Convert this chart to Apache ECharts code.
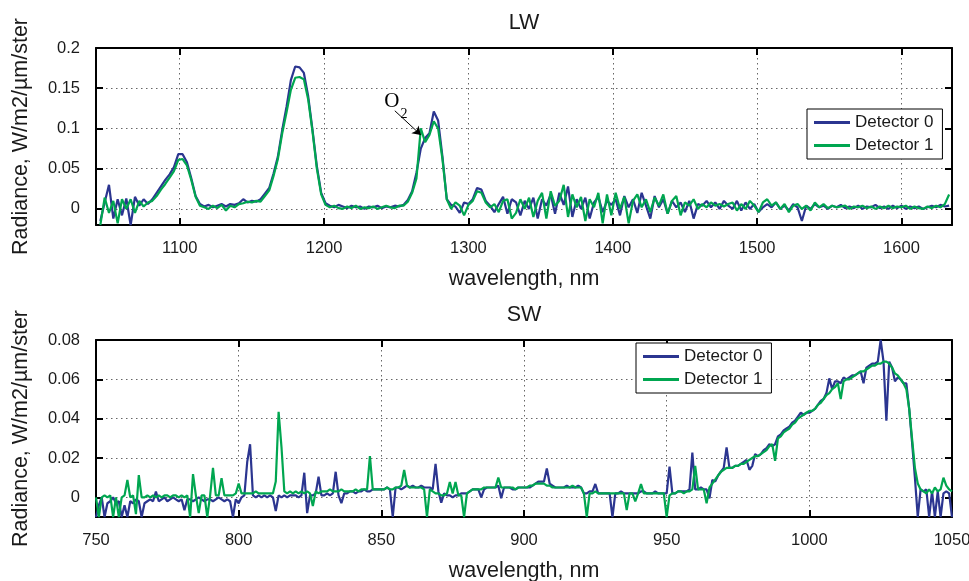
<!DOCTYPE html>
<html><head><meta charset="utf-8">
<script src="https://cdn.jsdelivr.net/npm/echarts@6/dist/echarts.min.js"></script>
<style>html,body{margin:0;padding:0;background:#fff}#c{width:969px;height:581px}</style>
</head><body><div id="c"></div>
<script>
// ---------------- DATA ----------------
const seriesNames = ['Detector 0', 'Detector 1'];
const panelTitles = ['LW', 'SW'];

// LW: sampled every 3 nm starting at 1045 nm
const lwStart = 1045, lwStep = 3;
const lwDet0 = [
-0.015,0.008,0.03,-0.012,0.012,-0.008,0.013,-0.02,0.015,0.004,0.012,0.006,
0.012,0.02,0.028,0.036,0.043,0.052,0.068,0.068,0.058,0.038,0.016,0.006,
0.003,0.005,0.002,0.004,0.006,0.003,0.006,0.005,0.007,0.012,0.008,0.01,
0.009,0.012,0.019,0.026,0.044,0.065,0.098,0.127,0.16,0.177,0.176,0.169,
0.14,0.098,0.053,0.02,0.007,
0.004,0.002,0.005,0.003,0.001,0.004,0.002,0.003,0.0,0.003,0.002,0.004,0.001,0.003,0.002,0.004,0.003,0.005,
0.011,0.022,0.045,0.075,0.088,0.094,0.121,0.11,0.065,0.012,
0.005,0.003,-0.005,0.008,0.006,0.012,0.026,0.024,0.01,0.004,
-0.004,0.006,0.015,-0.006,0.012,
0.008,-0.008,0.01,0.0,0.014,-0.012,0.012,0.004,0.018,-0.006,
0.02,0.005,0.028,-0.01,0.012,0.0,0.014,-0.012,0.008,0.015,
-0.004,0.01,0.005,0.012,-0.008,0.016,0.002,0.012,-0.005,0.02,
0.004,-0.012,0.016,0.002,0.012,-0.006,0.01,0.002,0.008,-0.004,
0.01,-0.012,0.006,0.004,0.01,0.002,0.008,0.0,0.01,0.004,
0.0,0.01,-0.002,0.008,0.0,0.006,-0.004,0.002,0.006,0.002,
0.008,0.0,0.004,-0.002,0.006,0.002,-0.015,0.004,0.0,0.006,
0.002,0.004,0.0,0.004,0.002,0.005,0.001,0.003,0.001,0.004,
0.0,0.003,0.002,0.005,0.001,0.003,0.0,0.004,0.001,0.004,
0.0,0.003,0.001,0.003,0.0,0.002,0.004,0.002,0.005,0.003,
0.004
];
const lwDet1 = [
-0.02,0.014,-0.005,0.01,-0.018,0.012,0.0,0.012,-0.005,0.01,0.003,0.008,
0.01,0.016,0.024,0.031,0.039,0.047,0.061,0.062,0.054,0.036,0.015,0.004,
0.002,0.0,0.004,0.001,0.005,-0.002,0.004,0.002,0.006,0.007,0.009,0.008,
0.01,0.009,0.016,0.023,0.041,0.062,0.094,0.12,0.148,0.163,0.164,0.161,
0.136,0.096,0.05,0.018,0.005,
0.002,0.004,0.001,0.0,0.003,0.001,0.004,0.0,0.002,0.001,0.003,0.0,0.002,0.004,0.002,0.001,0.004,0.004,
0.009,0.02,0.038,0.1,0.083,0.092,0.109,0.1,0.062,0.012,
0.0,0.008,0.004,-0.008,0.005,0.01,0.022,0.02,0.008,0.002,
0.006,-0.004,0.01,0.012,-0.012,
-0.005,0.012,0.0,0.014,-0.01,0.01,0.02,-0.012,0.022,0.004,
0.01,0.03,-0.01,0.018,0.002,0.015,-0.015,0.012,0.002,0.02,
-0.018,0.018,-0.008,0.02,0.0,0.015,-0.018,0.01,0.018,0.002,
0.012,-0.004,0.014,0.004,0.018,-0.006,0.01,0.016,-0.008,0.008,
0.004,0.012,0.0,0.006,0.002,0.008,0.004,0.006,0.003,0.006,
0.008,-0.002,0.006,0.0,0.01,0.004,-0.004,0.008,0.012,0.004,
0.008,0.0,0.006,-0.004,0.004,0.006,0.0,0.004,-0.002,0.008,
0.002,0.006,0.001,0.004,0.002,0.003,0.004,0.0,0.003,0.002,
0.004,0.001,0.003,0.0,0.003,0.001,0.004,0.001,0.003,0.002,
0.004,0.0,0.003,0.001,0.0,0.003,0.001,0.004,0.002,0.006,
0.018
];

// SW: sampled every 1 nm starting at 750 nm
const swStart = 750, swStep = 1;
const swDet0 = [
-0.01,-0.004,0.0,-0.01,-0.003,-0.002,0.0,-0.003,-0.002,-0.01,
-0.004,-0.01,-0.002,-0.003,-0.001,-0.002,-0.01,-0.003,-0.002,-0.001,
-0.002,0.003,-0.002,-0.001,0.0,-0.002,-0.001,0.0,-0.001,-0.002,
-0.001,-0.0065,-0.001,-0.001,-0.002,-0.001,0.0,-0.001,-0.002,-0.001,
-0.001,-0.002,-0.001,0.0,-0.001,-0.002,-0.001,-0.002,-0.01,-0.001,
-0.003,0.0,0.001,0.018,0.027,0.001,0.0,0.001,0.0,0.001,
0.0,0.001,0.0,-0.007,0.001,0.0,0.001,0.0,0.001,0.001,
0.001,0.0,0.001,0.0125,-0.008,0.001,0.001,0.002,0.0105,0.001,
0.001,0.002,0.001,0.002,0.013,0.001,-0.003,0.002,0.002,0.003,
0.003,0.002,0.003,0.003,0.004,0.003,0.003,0.004,0.004,0.004,
0.004,0.004,0.005,0.004,-0.01,0.005,0.005,0.004,0.005,0.006,
0.005,0.006,0.005,0.005,0.006,0.005,0.005,0.005,0.004,0.017,
0.003,-0.0027,0.002,0.001,0.001,0.0,0.001,0.001,0.002,0.002,
0.002,0.003,0.004,0.004,0.004,0.0,0.004,0.005,0.005,0.005,
0.005,0.006,-0.0005,0.005,0.005,0.005,0.004,0.004,0.005,0.005,
0.005,0.005,0.005,0.006,0.007,0.008,0.008,0.008,0.0147,0.007,
0.006,0.005,0.005,0.005,0.005,0.006,0.005,0.005,0.005,0.006,
0.005,0.002,0.002,0.003,0.003,0.0068,0.002,0.002,0.002,0.002,
0.002,-0.01,0.002,0.002,0.003,0.002,0.002,0.002,0.002,0.002,
0.002,0.003,0.003,0.002,0.002,0.002,0.003,0.002,0.002,0.002,
0.002,0.0156,0.002,0.002,0.003,0.003,0.003,0.003,0.004,0.0227,
0.004,0.004,0.005,0.004,0.004,-0.0005,0.0088,0.008,0.011,0.013,
0.015,0.0254,0.015,0.015,0.016,0.016,0.017,0.018,0.019,0.014,
0.016,0.022,0.021,0.022,0.024,0.025,0.027,0.026,0.027,0.031,
0.032,0.034,0.035,0.036,0.038,0.039,0.041,0.043,0.042,0.043,
0.043,0.044,0.045,0.047,0.049,0.05,0.053,0.0605,0.055,0.059,
0.059,0.058,0.061,0.06,0.061,0.062,0.062,0.063,0.064,0.058,
0.066,0.067,0.068,0.068,0.069,0.08,0.069,0.039,0.069,0.066,
0.059,0.061,0.06,0.058,0.058,0.045,0.028,0.01,-0.01,0.004,
0.003,0.004,-0.01,0.003,-0.01,0.003,-0.01,0.002,0.003,0.002,-0.01
];
const swDet1 = [
0.0,-0.01,0.0,0.001,0.0,0.001,-0.01,0.0,-0.01,0.0,
0.001,0.0088,0.0,0.001,-0.0085,0.0113,0.0,0.0,0.001,0.0,
0.001,0.0,0.001,0.0,0.001,0.001,0.0,0.001,0.001,0.0,
0.001,0.0,0.001,-0.01,0.0118,0.001,-0.008,0.001,0.001,-0.01,
0.001,0.015,0.001,0.001,0.0097,0.001,0.001,0.001,0.001,0.002,
0.007,0.002,0.002,0.002,0.002,0.002,0.003,0.002,0.002,0.002,
0.002,0.002,0.002,0.008,0.0435,0.0257,0.003,0.002,0.003,0.002,
0.003,0.002,0.003,0.002,0.003,0.002,-0.0044,0.003,0.002,0.003,
0.003,0.003,0.004,0.003,0.003,0.003,0.004,0.003,0.003,0.003,
0.003,0.004,0.003,0.004,0.004,0.004,0.021,0.004,0.004,0.004,
0.004,0.004,0.005,0.004,0.004,0.005,0.005,0.006,0.0139,0.006,
0.005,0.005,0.005,0.005,0.005,0.004,-0.01,0.004,0.003,0.002,
0.002,0.001,0.001,0.002,0.0078,0.002,0.0078,0.001,0.001,-0.01,
0.002,0.003,0.004,0.004,0.004,0.004,0.005,0.005,0.005,0.005,
0.005,0.01,0.005,0.005,0.005,0.005,0.005,0.004,0.005,0.005,
0.005,0.005,0.006,0.006,0.007,0.007,0.007,0.007,0.006,0.006,
0.005,0.005,0.005,0.005,0.005,0.005,0.005,0.006,0.005,0.005,
0.005,0.002,-0.01,0.002,0.002,0.003,0.002,0.002,0.002,0.002,
0.002,0.002,0.002,0.002,0.002,0.002,-0.0065,0.002,0.002,-0.002,
0.002,0.0068,0.002,0.002,0.002,0.002,0.002,0.002,0.002,0.002,
-0.01,0.001,0.002,0.002,0.003,0.003,0.002,0.003,0.003,0.004,
0.016,0.004,0.004,0.004,-0.003,0.005,0.007,0.009,0.011,0.013,
0.014,0.015,0.015,0.015,0.016,0.016,0.017,0.017,0.018,0.019,
0.02,0.021,0.021,0.022,0.023,0.024,0.026,0.027,0.0186,0.03,
0.031,0.033,0.034,0.035,0.037,0.038,0.04,0.041,0.042,0.043,
0.044,0.044,0.045,0.047,0.048,0.05,0.052,0.053,0.055,0.056,
0.058,0.05,0.059,0.06,0.06,0.061,0.062,0.063,0.064,0.064,
0.065,0.066,0.067,0.067,0.068,0.068,0.069,0.069,0.068,0.066,
0.063,0.062,0.06,0.058,0.055,0.045,0.03,0.015,0.007,0.004,
0.003,0.002,0.004,0.002,0.005,0.003,0.004,0.01,0.006,0.004,0.003
];

// axis ranges and tick labels
const lwXRange = [1042, 1635];
const lwYRange = [-0.02, 0.2];
const swXRange = [750, 1050];
const swYRange = [-0.01, 0.08];
const lwXTicks = [1100, 1200, 1300, 1400, 1500, 1600];
const lwYTicks = [0, 0.05, 0.1, 0.15, 0.2];
const swXTicks = [750, 800, 850, 900, 950, 1000, 1050];
const swYTicks = [0, 0.02, 0.04, 0.06, 0.08];
const xName = 'wavelength, nm';
const yName = 'Radiance, W/m2/\u00b5m/ster';
// O2 annotation (data coordinates in the LW panel)
const o2Arrow = [[1249, 0.122], [1267, 0.092]];
const o2Label = [1249.7, 0.1337];

// ---------------- CHART ----------------
const C0 = '#2B3590', C1 = '#00A650';
const FONT = "'Liberation Sans', Arial, Helvetica, sans-serif";
const TXT = '#1a1a1a';
const pairs = (start, step, vals) => vals.map((v, i) => [start + i * step, v]);
const plain = v => String(+v.toFixed(6));

const frameLine = {show: true, onZero: false, lineStyle: {color: '#000', width: 2}};
function tick(vals) { return {show: true, inside: true, length: 7, customValues: vals, lineStyle: {color: '#000', width: 2}}; }
const dotted = {show: true, lineStyle: {color: '#666', type: [1.5, 3.5], width: 1}};

function xPair(gi, range, ticks, title) {
  return [
    {gridIndex: gi, type: 'value', min: range[0], max: range[1], position: 'bottom',
     name: xName, nameLocation: 'middle', nameGap: 43,
     nameTextStyle: {fontSize: 21.5, color: TXT, fontFamily: FONT},
     axisLine: frameLine, axisTick: tick(ticks),
     axisLabel: {show: true, customValues: ticks, formatter: plain, margin: 15, fontSize: 16.5, color: TXT, fontFamily: FONT},
     splitLine: dotted},
    {gridIndex: gi, type: 'value', min: range[0], max: range[1], position: 'top',
     name: title, nameLocation: 'middle', nameGap: 14,
     nameTextStyle: {fontSize: 21.5, color: TXT, fontFamily: FONT},
     axisLine: frameLine, axisTick: tick(ticks), axisLabel: {show: false}, splitLine: {show: false}}
  ];
}
function yPair(gi, range, ticks) {
  return [
    {gridIndex: gi, type: 'value', min: range[0], max: range[1], position: 'left',
     name: yName, nameLocation: 'middle', nameGap: 64,
     nameTextStyle: {fontSize: 21.5, color: TXT, fontFamily: FONT},
     axisLine: frameLine, axisTick: tick(ticks),
     axisLabel: {show: true, customValues: ticks, formatter: plain, margin: 16, fontSize: 16.5, color: TXT, fontFamily: FONT},
     splitLine: dotted},
    {gridIndex: gi, type: 'value', min: range[0], max: range[1], position: 'right',
     axisLine: frameLine, axisTick: tick(ticks), axisLabel: {show: false}, splitLine: {show: false}}
  ];
}
function lineSeries(name, color, xi, yi, data, z) {
  return {type: 'line', name, xAxisIndex: xi, yAxisIndex: yi, data, symbol: 'none', showSymbol: false,
          lineStyle: {color, width: 2.2}, itemStyle: {color}, z, clip: true, silent: true};
}
function legendAt(left, top) {
  return {orient: 'vertical', left, top, data: seriesNames, icon: 'rect', itemWidth: 36, itemHeight: 3,
          itemGap: 6, padding: [5, 9, 5, 7], backgroundColor: '#fff', borderColor: '#000', borderWidth: 1,
          borderRadius: 0, selectedMode: false,
          textStyle: {fontSize: 17, color: TXT, fontFamily: FONT}};
}

const lwS1 = lineSeries(seriesNames[1], C1, 0, 0, pairs(lwStart, lwStep, lwDet1), 3);
lwS1.markLine = {silent: true, animation: false, symbol: ['none', 'arrow'], symbolSize: 8,
  lineStyle: {color: '#000', width: 1, type: 'solid'}, label: {show: false},
  data: [[{coord: o2Arrow[0]}, {coord: o2Arrow[1]}]]};
lwS1.markPoint = {silent: true, animation: false, symbol: 'circle', symbolSize: 1,
  itemStyle: {color: 'rgba(0,0,0,0)'},
  label: {show: true, position: 'inside', formatter: '{o|O}{s|2}',
    rich: {o: {fontFamily: "'Liberation Serif', 'DejaVu Serif', serif", fontSize: 21, lineHeight: 21, color: '#000', verticalAlign: 'top'},
           s: {fontFamily: "'Liberation Serif', 'DejaVu Serif', serif", fontSize: 14, lineHeight: 14, color: '#000', verticalAlign: 'top', padding: [16, 0, 0, 1]}}},
  data: [{coord: o2Label}]};

const option = {
  animation: false,
  backgroundColor: '#fff',
  grid: [
    {left: 96, top: 48, width: 856, height: 177, outerBoundsMode: 'none', containLabel: false},
    {left: 96, top: 340, width: 856, height: 177, outerBoundsMode: 'none', containLabel: false}
  ],
  xAxis: [...xPair(0, lwXRange, lwXTicks, panelTitles[0]), ...xPair(1, swXRange, swXTicks, panelTitles[1])],
  yAxis: [...yPair(0, lwYRange, lwYTicks), ...yPair(1, swYRange, swYTicks)],
  legend: [legendAt(807, 109), legendAt(636, 343)],
  series: [
    lineSeries(seriesNames[0], C0, 0, 0, pairs(lwStart, lwStep, lwDet0), 2),
    lwS1,
    lineSeries(seriesNames[0], C0, 2, 2, pairs(swStart, swStep, swDet0), 2),
    lineSeries(seriesNames[1], C1, 2, 2, pairs(swStart, swStep, swDet1), 3)
  ]
};
const chart = echarts.init(document.getElementById('c'), null, {renderer: 'canvas'});
chart.setOption(option);
</script>
</body></html>
